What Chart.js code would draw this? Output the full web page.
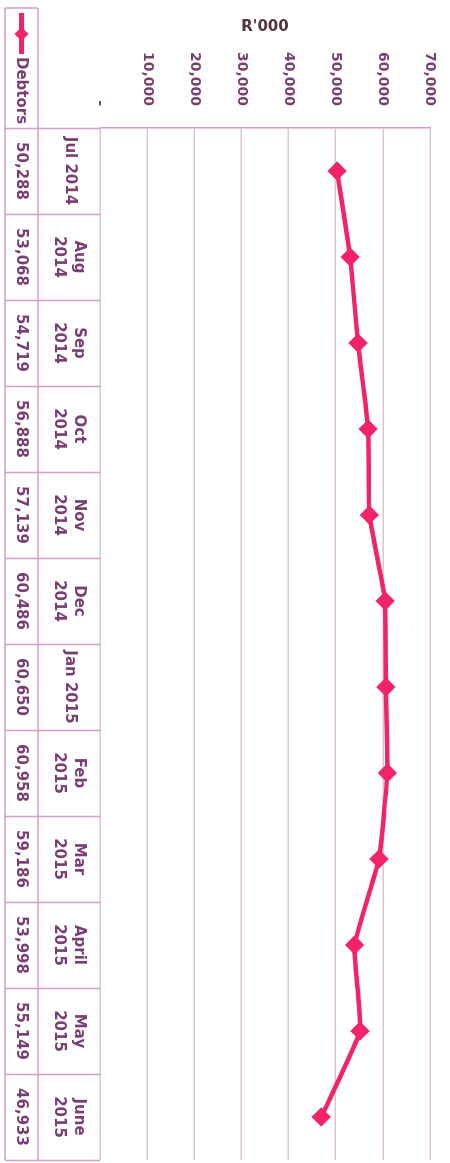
<!DOCTYPE html>
<html>
<head>
<meta charset="utf-8">
<script src="https://cdn.jsdelivr.net/npm/chart.js@4"></script>
<style>
  html, body { margin: 0; padding: 0; background: #fff; }
  #page { position: relative; width: 450px; height: 1163px; overflow: hidden; }
  /* the chart is laid out landscape, then turned a quarter clockwise like the scan */
  #turn { position: absolute; left: 0; top: 0; width: 1163px; height: 450px;
          transform-origin: 0 0; transform: translateX(450px) rotate(90deg); }
</style>
</head>
<body>
<div id="page">
  <div id="turn"><canvas id="chart" width="1163" height="450"></canvas></div>
</div>
<script>
// data
const months = [['Jul 2014'], ['Aug', '2014'], ['Sep', '2014'], ['Oct', '2014'], ['Nov', '2014'], ['Dec', '2014'],
  ['Jan 2015'], ['Feb', '2015'], ['Mar', '2015'], ['April', '2015'], ['May', '2015'], ['June', '2015']]
const debtors = [50288, 53068, 54719, 56888, 57139, 60486, 60650, 60958, 59186, 53998, 55149, 46933]
const seriesName = 'Debtors'
const axisTitle = "R'000"
const axisMin = 0
const axisMax = 70000
const axisStep = 10000

const lineColor = '#f2236a'
const textColor = '#7a3f72'
const gridColor = '#dcc3d6'
const tableColor = '#d69ccb'
const fontFamily = '"DejaVu Sans", Verdana, sans-serif'

const fmt = v => v === 0 ? '-' : v.toLocaleString('en-US')

// draws the data table (category row + value row) and the legend key under the plot
const dataTable = {
  id: 'dataTable',
  afterDraw (chart) {
    const { ctx, chartArea } = chart
    const xs = chart.scales.x
    const n = months.length
    const cw = (chartArea.right - chartArea.left) / n
    const top = chartArea.bottom
    const mid = top + 62
    const bot = chart.height - 5
    const legendLeft = 8

    ctx.save()
    ctx.strokeStyle = tableColor
    ctx.lineWidth = 1.5
    const seg = (x1, y1, x2, y2) => { ctx.beginPath(); ctx.moveTo(x1, y1); ctx.lineTo(x2, y2); ctx.stroke() }
    for (let i = 0; i <= n; i++) {
      const px = Math.round(chartArea.left + i * cw) + 0.5
      seg(px, top, px, bot)
    }
    seg(legendLeft, mid, chartArea.right, mid)
    seg(legendLeft, bot, chartArea.right, bot)
    seg(legendLeft, mid, legendLeft, bot)

    ctx.fillStyle = textColor
    ctx.font = 'bold 15px ' + fontFamily
    ctx.textAlign = 'center'
    ctx.textBaseline = 'middle'
    months.forEach((lines, i) => {
      const cx = xs.getPixelForValue(i)
      if (lines.length === 1) {
        ctx.fillText(lines[0], cx, top + 30)
      } else {
        lines.forEach((t, k) => ctx.fillText(t, cx, top + 21 + k * 20))
      }
      ctx.fillText(fmt(debtors[i]), cx, (mid + bot) / 2 + 1)
    })

    // legend key
    const ly = (mid + bot) / 2
    ctx.strokeStyle = lineColor
    ctx.lineWidth = 5
    seg(13, ly, 54, ly)
    ctx.fillStyle = lineColor
    ctx.beginPath()
    ctx.moveTo(34, ly - 7); ctx.lineTo(41, ly); ctx.lineTo(34, ly + 7); ctx.lineTo(27, ly)
    ctx.closePath(); ctx.fill()
    ctx.fillStyle = textColor
    ctx.textAlign = 'left'
    ctx.fillText(seriesName, 57, ly + 1)
    ctx.restore()
  }
}

new Chart(document.getElementById('chart'), {
  type: 'line',
  data: {
    labels: months.map(m => m.join(' ')),
    datasets: [{
      label: seriesName,
      data: debtors,
      borderColor: lineColor,
      backgroundColor: lineColor,
      borderWidth: 4.5,
      pointStyle: 'rectRot',
      pointRadius: 6.5,
      pointBackgroundColor: lineColor,
      pointBorderColor: lineColor,
      tension: 0.1
    }]
  },
  options: {
    responsive: false,
    animation: false,
    devicePixelRatio: 1,
    layout: { autoPadding: false, padding: { top: 20, right: 3, bottom: 5, left: 0 } },
    plugins: { legend: { display: false }, tooltip: { enabled: false } },
    scales: {
      x: {
        offset: true,
        grid: { display: false },
        border: { display: false },
        ticks: { display: false },
        afterFit: s => { s.height = 95; s.paddingLeft = 0; s.paddingRight = 0 }
      },
      y: {
        min: axisMin,
        max: axisMax,
        grid: { color: gridColor, lineWidth: 1.5, drawTicks: false },
        border: { color: tableColor, width: 1.5 },
        ticks: {
          stepSize: axisStep,
          padding: 22,
          color: textColor,
          font: { family: fontFamily, size: 14, weight: 'bold' },
          callback: v => fmt(v)
        },
        title: {
          display: true,
          text: axisTitle,
          color: '#553640',
          font: { family: fontFamily, size: 15, weight: 'bold' },
          padding: { top: 18, bottom: 4 }
        },
        afterFit: s => { s.width = 128; s.paddingTop = 0; s.paddingBottom = 0 }
      }
    }
  },
  plugins: [dataTable]
})
</script>
</body>
</html>
